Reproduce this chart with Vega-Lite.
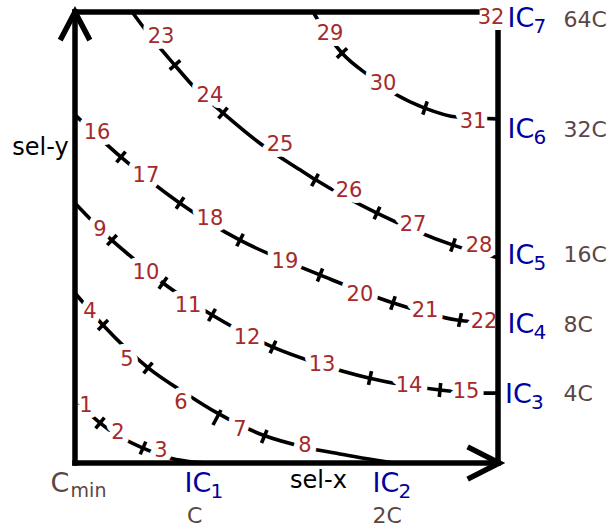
{
  "$schema": "https://vega.github.io/schema/vega-lite/v6.json",
  "width": 611,
  "height": 532,
  "autosize": {"type": "fit", "contains": "padding"},
  "padding": 0,
  "background": "white",
  "config": {"view": {"stroke": null}},
  "datasets": {
    "frame": [
      {"seg": "left", "i": 0, "x": 0, "y": 0},
      {"seg": "left", "i": 1, "x": 0, "y": 100},
      {"seg": "top", "i": 0, "x": 0, "y": 100},
      {"seg": "top", "i": 1, "x": 95.0, "y": 100},
      {"seg": "bottom", "i": 0, "x": 0, "y": 0},
      {"seg": "bottom", "i": 1, "x": 100, "y": 0},
      {"seg": "right", "i": 0, "x": 100, "y": 0},
      {"seg": "right", "i": 1, "x": 100, "y": 95.4},
      {"seg": "arrow-y", "i": 0, "x": -3.2, "y": 94.3},
      {"seg": "arrow-y", "i": 1, "x": 0, "y": 100},
      {"seg": "arrow-y", "i": 2, "x": 3.2, "y": 94.3},
      {"seg": "arrow-x", "i": 0, "x": 93.4, "y": 3.3},
      {"seg": "arrow-x", "i": 1, "x": 100.3, "y": 0},
      {"seg": "arrow-x", "i": 2, "x": 93.4, "y": -3.3}
    ],
    "contours": [
      {"ic": 1, "i": 0, "x": 0, "y": 14.6},
      {"ic": 1, "i": 1, "x": 1.9, "y": 12.4},
      {"ic": 1, "i": 2, "x": 5.9, "y": 8.9},
      {"ic": 1, "i": 3, "x": 9.9, "y": 6.2},
      {"ic": 1, "i": 4, "x": 16.1, "y": 3.3},
      {"ic": 1, "i": 5, "x": 21.7, "y": 1.3},
      {"ic": 1, "i": 6, "x": 26.5, "y": 0.4},
      {"ic": 1, "i": 7, "x": 31.2, "y": 0},
      {"ic": 2, "i": 0, "x": 0, "y": 37.7},
      {"ic": 2, "i": 1, "x": 6.6, "y": 30.6},
      {"ic": 2, "i": 2, "x": 17.3, "y": 21.1},
      {"ic": 2, "i": 3, "x": 26.7, "y": 15.1},
      {"ic": 2, "i": 4, "x": 33.6, "y": 11.1},
      {"ic": 2, "i": 5, "x": 44.4, "y": 6.2},
      {"ic": 2, "i": 6, "x": 54.4, "y": 3.5},
      {"ic": 2, "i": 7, "x": 62.6, "y": 2.0},
      {"ic": 2, "i": 8, "x": 75.2, "y": 0},
      {"ic": 3, "i": 0, "x": 0, "y": 57.6},
      {"ic": 3, "i": 1, "x": 8.7, "y": 49.4},
      {"ic": 3, "i": 2, "x": 14.2, "y": 45.0},
      {"ic": 3, "i": 3, "x": 20.8, "y": 39.9},
      {"ic": 3, "i": 4, "x": 32.4, "y": 32.8},
      {"ic": 3, "i": 5, "x": 46.8, "y": 25.7},
      {"ic": 3, "i": 6, "x": 56.3, "y": 22.4},
      {"ic": 3, "i": 7, "x": 69.7, "y": 18.8},
      {"ic": 3, "i": 8, "x": 86.3, "y": 16.2},
      {"ic": 3, "i": 9, "x": 95.7, "y": 15.5},
      {"ic": 3, "i": 10, "x": 100, "y": 15.5},
      {"ic": 4, "i": 0, "x": 0, "y": 77.2},
      {"ic": 4, "i": 1, "x": 10.9, "y": 67.8},
      {"ic": 4, "i": 2, "x": 24.8, "y": 57.6},
      {"ic": 4, "i": 3, "x": 39.0, "y": 49.4},
      {"ic": 4, "i": 4, "x": 53.2, "y": 43.5},
      {"ic": 4, "i": 5, "x": 57.9, "y": 41.7},
      {"ic": 4, "i": 6, "x": 75.2, "y": 35.5},
      {"ic": 4, "i": 7, "x": 90.3, "y": 31.7},
      {"ic": 4, "i": 8, "x": 100, "y": 31.0},
      {"ic": 5, "i": 0, "x": 13.5, "y": 100},
      {"ic": 5, "i": 1, "x": 17.0, "y": 95.6},
      {"ic": 5, "i": 2, "x": 23.6, "y": 88.2},
      {"ic": 5, "i": 3, "x": 28.8, "y": 82.7},
      {"ic": 5, "i": 4, "x": 35.0, "y": 77.6},
      {"ic": 5, "i": 5, "x": 43.7, "y": 70.9},
      {"ic": 5, "i": 6, "x": 53.2, "y": 65.0},
      {"ic": 5, "i": 7, "x": 56.7, "y": 62.9},
      {"ic": 5, "i": 8, "x": 71.4, "y": 55.4},
      {"ic": 5, "i": 9, "x": 89.4, "y": 48.3},
      {"ic": 5, "i": 10, "x": 100, "y": 45.5},
      {"ic": 6, "i": 0, "x": 56.3, "y": 100},
      {"ic": 6, "i": 1, "x": 57.9, "y": 97.5},
      {"ic": 6, "i": 2, "x": 63.1, "y": 90.9},
      {"ic": 6, "i": 3, "x": 69.3, "y": 86.0},
      {"ic": 6, "i": 4, "x": 76.1, "y": 81.6},
      {"ic": 6, "i": 5, "x": 82.7, "y": 78.7},
      {"ic": 6, "i": 6, "x": 90.3, "y": 76.7},
      {"ic": 6, "i": 7, "x": 100, "y": 76.3}
    ],
    "ticks": [
      {"ic": 1, "x": 4.87, "y": 7.67, "x2": 6.95, "y2": 10.07},
      {"ic": 1, "x": 15.41, "y": 1.91, "x2": 16.74, "y2": 4.74},
      {"ic": 2, "x": 5.44, "y": 29.49, "x2": 7.80, "y2": 31.70},
      {"ic": 2, "x": 16.22, "y": 19.86, "x2": 18.30, "y2": 22.26},
      {"ic": 2, "x": 32.62, "y": 8.42, "x2": 34.51, "y2": 11.75},
      {"ic": 2, "x": 44.09, "y": 4.43, "x2": 45.39, "y2": 7.32},
      {"ic": 3, "x": 7.61, "y": 48.31, "x2": 9.88, "y2": 50.57},
      {"ic": 3, "x": 19.83, "y": 38.64, "x2": 21.77, "y2": 41.17},
      {"ic": 3, "x": 31.56, "y": 31.46, "x2": 33.21, "y2": 34.16},
      {"ic": 3, "x": 46.12, "y": 24.32, "x2": 47.49, "y2": 27.11},
      {"ic": 3, "x": 69.38, "y": 17.34, "x2": 70.09, "y2": 20.35},
      {"ic": 3, "x": 86.12, "y": 14.63, "x2": 86.45, "y2": 17.74},
      {"ic": 4, "x": 9.81, "y": 66.64, "x2": 11.94, "y2": 69.04},
      {"ic": 4, "x": 23.88, "y": 56.38, "x2": 25.77, "y2": 58.91},
      {"ic": 4, "x": 38.23, "y": 48.06, "x2": 39.79, "y2": 50.81},
      {"ic": 4, "x": 57.30, "y": 40.24, "x2": 58.53, "y2": 43.12},
      {"ic": 4, "x": 74.65, "y": 33.99, "x2": 75.69, "y2": 36.96},
      {"ic": 4, "x": 90.68, "y": 30.17, "x2": 91.35, "y2": 33.23},
      {"ic": 5, "x": 22.39, "y": 87.22, "x2": 24.89, "y2": 89.26},
      {"ic": 5, "x": 33.92, "y": 76.40, "x2": 36.05, "y2": 78.79},
      {"ic": 5, "x": 55.93, "y": 61.39, "x2": 57.54, "y2": 64.09},
      {"ic": 5, "x": 70.71, "y": 54.03, "x2": 72.08, "y2": 56.82},
      {"ic": 5, "x": 88.82, "y": 46.87, "x2": 89.90, "y2": 49.79},
      {"ic": 6, "x": 61.91, "y": 89.83, "x2": 64.32, "y2": 91.96},
      {"ic": 6, "x": 82.22, "y": 77.24, "x2": 83.26, "y2": 80.17}
    ],
    "steps": [
      {"n": "1", "x": 2.60, "y": 12.64},
      {"n": "2", "x": 10.17, "y": 6.65},
      {"n": "3", "x": 20.33, "y": 2.66},
      {"n": "4", "x": 3.55, "y": 33.48},
      {"n": "5", "x": 12.29, "y": 22.84},
      {"n": "6", "x": 25.06, "y": 13.30},
      {"n": "7", "x": 39.01, "y": 7.32},
      {"n": "8", "x": 54.37, "y": 3.77},
      {"n": "9", "x": 5.91, "y": 51.66},
      {"n": "10", "x": 16.78, "y": 42.12},
      {"n": "11", "x": 26.71, "y": 34.81},
      {"n": "12", "x": 40.66, "y": 27.71},
      {"n": "13", "x": 58.39, "y": 21.73},
      {"n": "14", "x": 78.96, "y": 17.07},
      {"n": "15", "x": 92.43, "y": 15.74},
      {"n": "16", "x": 5.20, "y": 73.16},
      {"n": "17", "x": 16.78, "y": 63.63},
      {"n": "18", "x": 31.91, "y": 54.09},
      {"n": "19", "x": 49.64, "y": 44.56},
      {"n": "20", "x": 67.37, "y": 37.25},
      {"n": "21", "x": 82.74, "y": 33.70},
      {"n": "22", "x": 96.69, "y": 31.26},
      {"n": "23", "x": 20.33, "y": 94.44},
      {"n": "24", "x": 31.91, "y": 81.36},
      {"n": "25", "x": 48.46, "y": 70.50},
      {"n": "26", "x": 64.77, "y": 60.30},
      {"n": "27", "x": 79.90, "y": 52.76},
      {"n": "28", "x": 95.51, "y": 48.11},
      {"n": "29", "x": 60.28, "y": 95.11},
      {"n": "30", "x": 72.81, "y": 84.02},
      {"n": "31", "x": 94.09, "y": 75.60},
      {"n": "32", "x": 98.34, "y": 98.66}
    ],
    "ic_labels": [
      {"sub": "1", "x": 25.89, "y": -6.5},
      {"sub": "2", "x": 70.33, "y": -6.5},
      {"sub": "3", "x": 101.65, "y": 13.3},
      {"sub": "4", "x": 102.24, "y": 28.82},
      {"sub": "5", "x": 102.24, "y": 44.12},
      {"sub": "6", "x": 102.24, "y": 72.05},
      {"sub": "7", "x": 102.24, "y": 96.66}
    ],
    "cost_labels": [
      {"cost": "C", "x": 26.48, "y": -13.3},
      {"cost": "2C", "x": 70.33, "y": -13.3},
      {"cost": "4C", "x": 115.48, "y": 13.75},
      {"cost": "8C", "x": 115.48, "y": 29.04},
      {"cost": "16C", "x": 115.48, "y": 44.56},
      {"cost": "32C", "x": 115.48, "y": 72.27},
      {"cost": "64C", "x": 115.48, "y": 96.66}
    ],
    "axis_titles": [
      {"title": "sel-x", "x": 57.56, "y": -5.54},
      {"title": "sel-y", "x": -8.16, "y": 68.28}
    ],
    "origin": [
      {"main": "C", "sub": "min", "x": -5.77, "y": -6.43}
    ]
  },
  "encoding": {
    "x": {"field": "x", "type": "quantitative", "axis": null,
          "scale": {"domain": [-17.73, 126.71], "nice": false, "zero": false}},
    "y": {"field": "y", "type": "quantitative", "axis": null,
          "scale": {"domain": [-15.3, 102.66], "nice": false, "zero": false}}
  },
  "layer": [
    {
      "data": {"name": "contours"},
      "mark": {"type": "line", "color": "black", "strokeWidth": 3.6, "interpolate": "monotone"},
      "encoding": {
        "detail": {"field": "ic", "type": "nominal"},
        "order": {"field": "i", "type": "quantitative"}
      }
    },
    {
      "data": {"name": "ticks"},
      "mark": {"type": "rule", "color": "black", "strokeWidth": 3.6},
      "encoding": {
        "x2": {"field": "x2"},
        "y2": {"field": "y2"}
      }
    },
    {
      "data": {"name": "steps"},
      "mark": {"type": "text", "font": "DejaVu Sans", "fontSize": 21, "align": "center", "baseline": "middle",
               "fill": "white", "stroke": "white", "strokeWidth": 12, "strokeJoin": "round"},
      "encoding": {"text": {"field": "n"}}
    },
    {
      "data": {"name": "frame"},
      "mark": {"type": "line", "color": "black", "strokeWidth": 5.5, "strokeCap": "square", "strokeJoin": "miter"},
      "encoding": {
        "detail": {"field": "seg", "type": "nominal"},
        "order": {"field": "i", "type": "quantitative"}
      }
    },
    {
      "data": {"name": "steps"},
      "mark": {"type": "text", "font": "DejaVu Sans", "fontSize": 21, "align": "center", "baseline": "middle", "fill": "#a52a2a"},
      "encoding": {"text": {"field": "n"}}
    },
    {
      "data": {"name": "ic_labels"},
      "mark": {"type": "text", "text": "IC", "font": "DejaVu Sans", "fontSize": 27, "align": "left", "baseline": "alphabetic", "fill": "#0000a0"}
    },
    {
      "data": {"name": "ic_labels"},
      "mark": {"type": "text", "font": "DejaVu Sans", "fontSize": 20, "align": "left", "baseline": "alphabetic", "fill": "#0000a0", "dx": 26, "dy": 6},
      "encoding": {"text": {"field": "sub"}}
    },
    {
      "data": {"name": "cost_labels"},
      "mark": {"type": "text", "font": "DejaVu Sans", "fontSize": 22, "align": "left", "baseline": "alphabetic", "fill": "#5b4646"},
      "encoding": {"text": {"field": "cost"}}
    },
    {
      "data": {"name": "axis_titles"},
      "mark": {"type": "text", "font": "DejaVu Sans", "fontSize": 24, "align": "center", "baseline": "alphabetic", "fill": "black"},
      "encoding": {"text": {"field": "title"}}
    },
    {
      "data": {"name": "origin"},
      "mark": {"type": "text", "font": "DejaVu Sans", "fontSize": 27, "align": "left", "baseline": "alphabetic", "fill": "#5b4646"},
      "encoding": {"text": {"field": "main"}}
    },
    {
      "data": {"name": "origin"},
      "mark": {"type": "text", "font": "DejaVu Sans", "fontSize": 19, "align": "left", "baseline": "alphabetic", "fill": "#5b4646", "dx": 20, "dy": 5},
      "encoding": {"text": {"field": "sub"}}
    }
  ]
}
